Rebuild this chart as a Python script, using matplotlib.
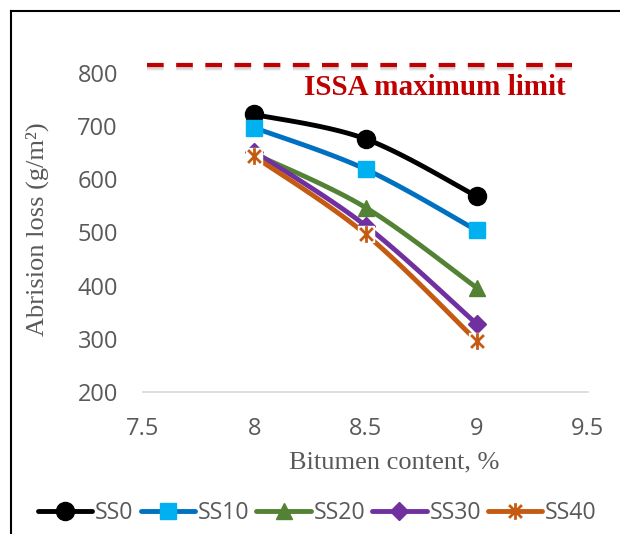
import numpy as np
import matplotlib
matplotlib.use("Agg")
import matplotlib.pyplot as plt
from matplotlib.path import Path
from matplotlib.lines import Line2D

# ---- data ----
bitumen = [8, 8.5, 9]
series_names = ["SS0", "SS10", "SS20", "SS30", "SS40"]
ss0 = [722, 676, 568]
ss10 = [697, 619, 504]
ss20 = [648, 547, 396]
ss30 = [652, 513, 328]
ss40 = [643, 497, 296]
issa_limit = 815
x_ticks = [7.5, 8, 8.5, 9, 9.5]
x_tick_labels = ["7.5", "8", "8.5", "9", "9.5"]
y_ticks = [200, 300, 400, 500, 600, 700, 800]

W, H = 620, 534
fig = plt.figure(figsize=(W / 100, H / 100), dpi=100)

def px(x):
    return x / W

def py(y):
    return 1 - y / H

ax = fig.add_axes([px(143), py(392), (588 - 143) / W, (392 - 46.4) / H])
ax.set_xlim(7.5, 9.5)
ax.set_ylim(200, 850)

star = Path([(-1, -1), (1, 1), (-1, 1), (1, -1), (0, -1.3), (0, 1.3)],
            [Path.MOVETO, Path.LINETO, Path.MOVETO, Path.LINETO, Path.MOVETO, Path.LINETO])

styles = [
    dict(color="#000000", marker="o", mfc="#000000", mec="#000000", ms=13),
    dict(color="#0070C0", marker="s", mfc="#00B0F0", mec="#00B0F0", ms=12),
    dict(color="#548235", marker="^", mfc="#548235", mec="#548235", ms=12),
    dict(color="#7030A0", marker="D", mfc="#7030A0", mec="#7030A0", ms=9),
    dict(color="#C55A11", marker=star, mfc="none", mec="#C55A11", ms=12, mew=2),
]


def smooth(xs, ys, n=40):
    xs = np.asarray(xs, float)
    ys = np.asarray(ys, float)
    P = np.column_stack([xs, ys])
    out = []
    for i in range(len(P) - 1):
        p0 = P[i - 1] if i > 0 else P[i]
        p1 = P[i]
        p2 = P[i + 1]
        p3 = P[i + 2] if i + 2 < len(P) else P[i + 1]
        c1 = p1 + (p2 - p0) / 6
        c2 = p2 - (p3 - p1) / 6
        t = np.linspace(0, 1, n)[:, None]
        seg = ((1 - t) ** 3) * p1 + 3 * ((1 - t) ** 2) * t * c1 + 3 * (1 - t) * t ** 2 * c2 + t ** 3 * p2
        out.append(seg if i == 0 else seg[1:])
    S = np.vstack(out)
    return S[:, 0], S[:, 1]

all_series = [ss0, ss10, ss20, ss30, ss40]
handles = []
for k, (name, vals, st) in enumerate(zip(series_names, all_series, styles)):
    sx, sy = smooth(bitumen, vals)
    z = 3 + 3 * k
    ax.plot(sx, sy, color=st["color"], lw=3.5, solid_capstyle="round", zorder=z)
    if k == 4:
        ax.plot(bitumen, vals, ls="none", marker="s", ms=11, mfc="white", mec="white",
                zorder=z + 1)
    ax.plot(bitumen, vals, ls="none", marker=st["marker"], ms=st["ms"],
            mfc=st["mfc"], mec=st["mec"], mew=st.get("mew", 1), zorder=z + 2)
    handles.append(Line2D([], [], color=st["color"], lw=3.5, marker=st["marker"],
                          ms=st["ms"], mfc=st["mfc"], mec=st["mec"], mew=st.get("mew", 1),
                          solid_capstyle="round"))

# ISSA limit (with soft shadow)
for off, a in [(-4, 0.18), (-6, 0.14), (-8, 0.08)]:
    ax.plot([7.52, 9.48], [issa_limit + off, issa_limit + off], color="#888888", lw=3,
            alpha=a, dashes=(4, 3), zorder=2)
ax.plot([7.52, 9.48], [issa_limit, issa_limit], color="#C00000", lw=3, dashes=(4, 3), zorder=3)
ax.text(8.81, 772, "ISSA maximum limit", color="#C00000", fontsize=21, fontweight="bold",
        family="Liberation Serif", ha="center", va="center")

ax.set_xticks(x_ticks)
ax.set_xticklabels(x_tick_labels)
ax.set_yticks(y_ticks)
ax.tick_params(length=0, labelsize=17, labelcolor="#595959")
for lab in ax.get_xticklabels() + ax.get_yticklabels():
    lab.set_family("Open Sans")
ax.tick_params(axis="x", pad=18)
ax.tick_params(axis="y", pad=18)
for s in ["top", "right", "left"]:
    ax.spines[s].set_visible(False)
ax.spines["bottom"].set_color("#D9D9D9")
ax.spines["bottom"].set_linewidth(1.2)

ax.set_xlabel("Bitumen content, %", family="Liberation Serif", fontsize=19, color="#595959")
ax.set_ylabel("Abrision loss (g/m²)", family="Liberation Serif", fontsize=19, color="#595959")
ax.xaxis.set_label_coords(0.564, -0.205)
ax.yaxis.set_label_coords(-0.238, 0.4716)
ax.xaxis.label.set_va("center")
ax.yaxis.label.set_va("center")

leg = fig.legend(handles, series_names, loc="center", bbox_to_anchor=(0.512, py(513)), ncol=5,
                 frameon=False, handlelength=2.35, handletextpad=0.12, columnspacing=0.3,
                 prop={"family": "Open Sans", "size": 16.7})
for t in leg.get_texts():
    t.set_color("#595959")

# outer border
fig.add_artist(Line2D([px(11), px(11)], [py(11), 0], color="black", lw=1.5,
                      transform=fig.transFigure))
fig.add_artist(Line2D([px(11), 1], [py(11), py(11)], color="black", lw=1.5,
                      transform=fig.transFigure))

fig.savefig("out.png", dpi=100)
